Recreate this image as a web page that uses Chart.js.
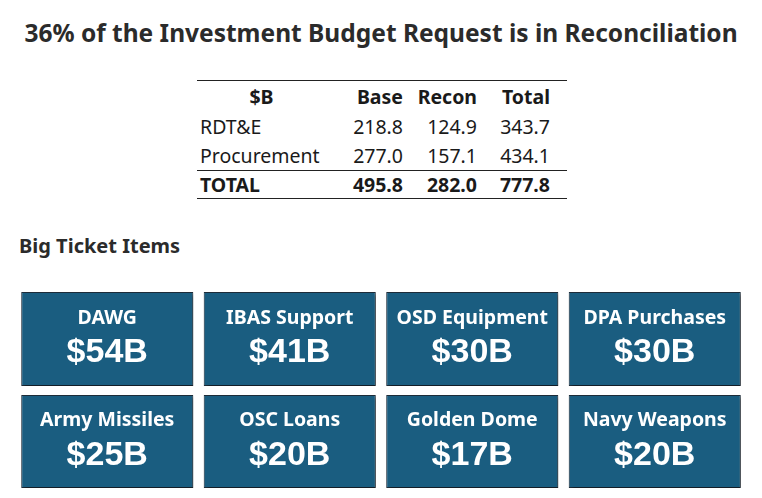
<!DOCTYPE html>
<html>
<head>
<meta charset="utf-8">
<script src="https://cdn.jsdelivr.net/npm/chart.js@4"></script>
<style>
    body { margin: 0; background: #fff; width: 762px; height: 498px; position: relative; overflow: hidden; font-family: "Noto Sans", sans-serif; color: #1a1a1a; }
    #title { position: absolute; top: 16px; left: 0; width: 762px; text-align: center; font-weight: bold; font-size: 24.5px; color: #2b2b2b; }
    #tbl { position: absolute; top: 80px; left: 197px; border-collapse: collapse; font-size: 19.5px; table-layout: fixed; }
    #tbl td, #tbl th { padding: 0 7px 0 0; height: 29px; text-align: right; white-space: nowrap; line-height: 1; }
    #tbl th { font-weight: bold; }
    #tbl td:first-child, #tbl th:first-child { text-align: left; padding-left: 3px; }
    #tbl th:first-child { text-align: center; }
    #tbl tr:first-child th { border-top: 1.5px solid #222; height: 31px; }
    #tbl tr.tot td { font-weight: bold; border-top: 1.5px solid #222; border-bottom: 1.5px solid #222; height: 27px; }
    #tbl td:last-child, #tbl th:last-child { padding-right: 17px; }
    #big { position: absolute; top: 232px; left: 19px; font-weight: bold; font-size: 20px; color: #2b2b2b; }
    #wrap { position: absolute; left: 0; top: 285px; width: 762px; height: 213px; }
</style>
</head>
<body>
<div id="title">36% of the Investment Budget Request is in Reconciliation</div>
<table id="tbl">
    <colgroup><col style="width:133px"><col style="width:80px"><col style="width:74px"><col style="width:83px"></colgroup>
    <thead id="tbl_head"></thead>
    <tbody id="tbl_body"></tbody>
</table>
<div id="big">Big Ticket Items</div>
<div id="wrap"><canvas id="myChart"></canvas></div>

<script>
// table data ($B)
table_cols = ['$B', 'Base', 'Recon', 'Total'];
table_rows = ['RDT&E', 'Procurement'];
base_vals = [218.8, 277.0];
recon_vals = [124.9, 157.1];
total_vals = [343.7, 434.1];

// big ticket tiles, 4 per row
row1_names = ['DAWG', 'IBAS Support', 'OSD Equipment', 'DPA Purchases'];
row1_vals = [54, 41, 30, 30];
row2_names = ['Army Missiles', 'OSC Loans', 'Golden Dome', 'Navy Weapons'];
row2_vals = [25, 20, 17, 20];

function fmt(v) { return v.toFixed(1) }

function write_table() {
    head = '<tr>' + table_cols.map(c => '<th>' + c + '</th>').join('') + '</tr>';
    document.getElementById('tbl_head').innerHTML = head;

    body = '';
    table_rows.forEach((r, i) => {
        body += '<tr><td>' + r.replace('&', '&amp;') + '</td><td>' + fmt(base_vals[i]) + '</td><td>' + fmt(recon_vals[i]) + '</td><td>' + fmt(total_vals[i]) + '</td></tr>';
    })
    sum = a => a.reduce((x, y) => x + y, 0);
    body += '<tr class="tot"><td>TOTAL</td><td>' + fmt(sum(base_vals)) + '</td><td>' + fmt(sum(recon_vals)) + '</td><td>' + fmt(sum(total_vals)) + '</td></tr>';
    document.getElementById('tbl_body').innerHTML = body;
}

// tile text drawn on top of each bar
const tileText = {
    id: 'tileText',
    beforeDatasetsDraw(chart) {
        const c = chart.ctx;
        c.save();
        c.shadowColor = 'rgba(0,0,0,0.45)';
        c.shadowOffsetX = 2;
        c.shadowOffsetY = 2;
        c.shadowBlur = 3;
    },
    afterDatasetsDraw(chart) {
        const c = chart.ctx;
        c.restore();
        c.save();
        c.fillStyle = '#ffffff';
        c.textAlign = 'center';
        c.textBaseline = 'middle';
        chart.data.datasets.forEach((ds, di) => {
            chart.getDatasetMeta(di).data.forEach((bar, i) => {
                top_y = Math.min(bar.y, bar.base);
                c.font = 'bold 19.5px "Noto Sans"';
                c.fillText(ds.names[i], bar.x, top_y + 26);
                c.font = 'bold 34px "Liberation Sans"';
                c.fillText('$' + ds.vals[i] + 'B', bar.x, top_y + 61);
            })
        })
        c.restore();
    }
};

function write_tiles() {
    const ctx = document.getElementById('myChart');
    const data = {
        labels: ['c1', 'c2', 'c3', 'c4'],
        datasets: [{
            names: row1_names,
            vals: row1_vals,
            data: row1_vals.map(() => [1.04, 2]),
        }, {
            names: row2_names,
            vals: row2_vals,
            data: row2_vals.map(() => [0, 0.95]),
        }]
    };
    data.datasets.forEach(ds => {
        ds.backgroundColor = '#1a5d80';
        ds.borderColor = '#1e2d3a';
        ds.borderWidth = 1;
        ds.borderSkipped = false;
        ds.grouped = false;
        ds.categoryPercentage = 1;
        ds.barPercentage = 0.943;
    })

    const config = {
        type: 'bar',
        data: data,
        options: {
            responsive: true,
            maintainAspectRatio: false,
            animation: false,
            layout: { padding: { left: 16, right: 16, top: 7, bottom: 10 } },
            scales: {
                x: { display: false },
                y: { display: false, min: 0, max: 2 }
            },
            plugins: {
                legend: { display: false },
                tooltip: { enabled: false }
            }
        },
        plugins: [tileText]
    };
    chart = new Chart(ctx, config);
}

write_table()
write_tiles()
</script>
</body>
</html>
